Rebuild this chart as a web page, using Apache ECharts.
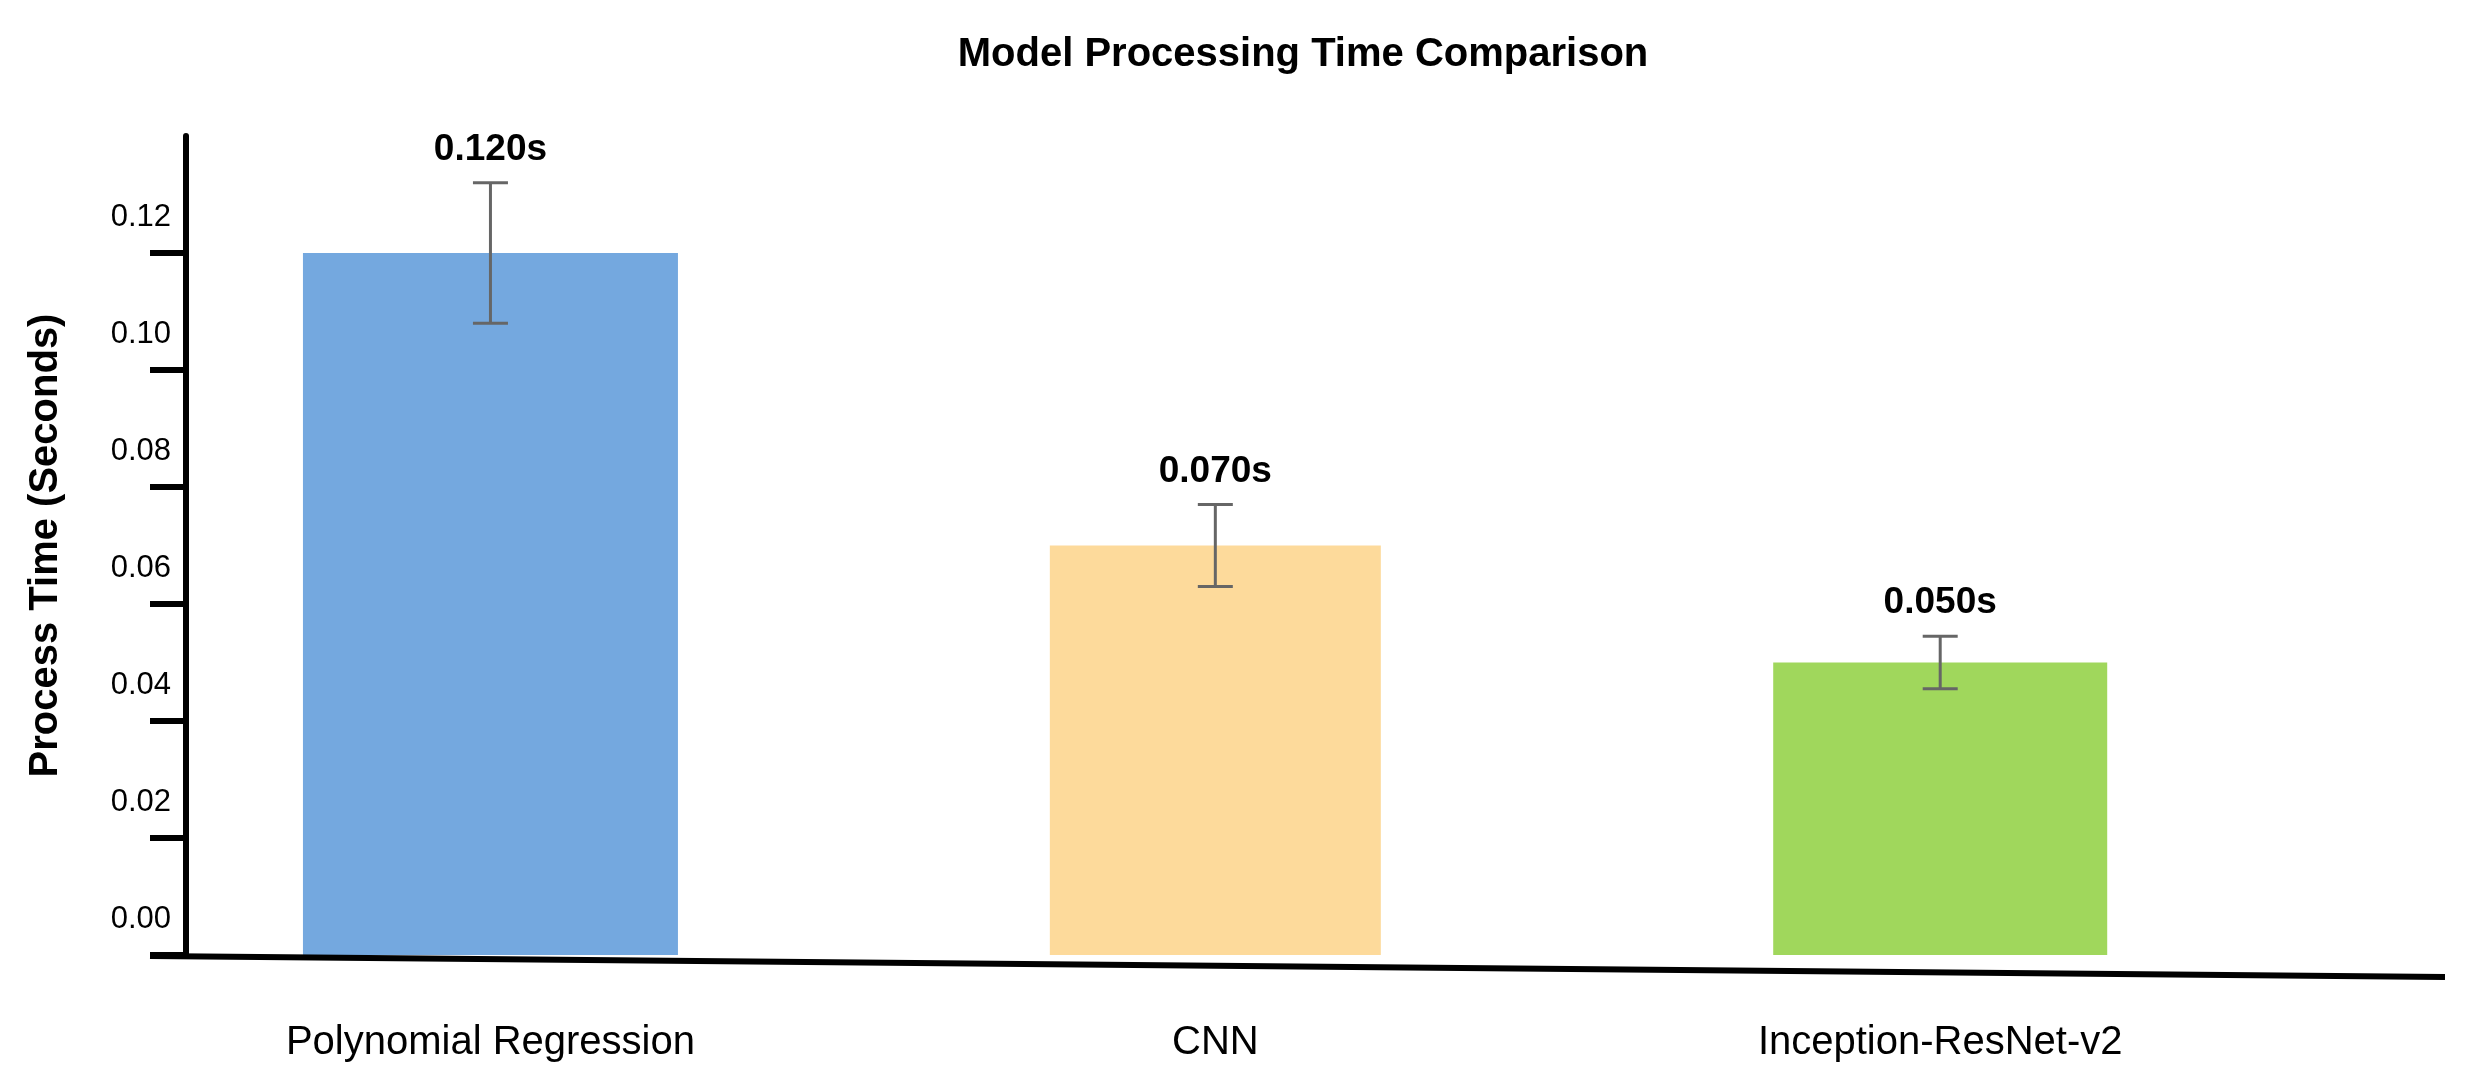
<!DOCTYPE html>
<html>
<head>
<meta charset="utf-8">
<script src="https://cdn.jsdelivr.net/npm/echarts@6/dist/echarts.min.js"></script>
<style>
html,body{margin:0;padding:0;background:#fff;}
#chart{width:2473px;height:1081px;}
</style>
</head>
<body>
<div id="chart"></div>
<script>
// ---- data ----
const categories = ['Polynomial Regression', 'CNN', 'Inception-ResNet-v2'];
const processTimes = [0.120, 0.070, 0.050];
const errorMargins = [0.012, 0.007, 0.0045];
const valueLabels = ['0.120s', '0.070s', '0.050s'];
const yTickValues = [0, 0.02, 0.04, 0.06, 0.08, 0.10, 0.12, 0.14];

// ---- styles ----
const barColors = ['#74A8DF', '#FDDA9B', '#A0D75C'];
const barWidthsPx = [375, 331, 334];
const FONT = '"Liberation Sans", Helvetica, Arial, sans-serif';

const chart = echarts.init(document.getElementById('chart'));

const barData = processTimes.map((v, i) => [i, v]);
const errData = processTimes.map((v, i) => [i, v, errorMargins[i]]);

const option = {
  backgroundColor: '#ffffff',
  animation: false,
  title: {
    text: 'Model Processing Time Comparison',
    left: 1298,
    top: 30,
    textAlign: 'center',
    textStyle: { fontFamily: FONT, fontSize: 40, fontWeight: 'bold', color: '#000' }
  },
  grid: { left: 186, right: 29, top: 136, bottom: 126, containLabel: false },
  xAxis: {
    type: 'value',
    min: -0.42,
    max: 2.695,
    splitLine: { show: false },
    axisLine: { show: false, onZero: false },
    axisTick: { show: false },
    axisLabel: {
      customValues: [0, 1, 2],
      formatter: v => categories[Math.round(v)] || '',
      fontFamily: FONT,
      fontSize: 40,
      color: '#000',
      margin: 68
    }
  },
  yAxis: {
    type: 'value',
    min: 0,
    max: 0.14,
    interval: 0.02,
    name: 'Process Time (Seconds)',
    nameLocation: 'middle',
    nameGap: 120,
    nameTextStyle: { fontFamily: FONT, fontSize: 40, fontWeight: 'bold', color: '#000' },
    splitLine: { show: false },
    axisLine: { show: true, onZero: false, lineStyle: { color: '#000', width: 6 } },
    axisTick: { show: true, length: 36, lineStyle: { color: '#000', width: 6 } },
    axisLabel: {
      showMaxLabel: false,
      formatter: v => (v >= 0.139 ? '' : v.toFixed(2)),
      fontFamily: FONT,
      fontSize: 31,
      color: '#000',
      margin: 15,
      verticalAlign: 'bottom',
      padding: [0, 0, 20, 0]
    }
  },
  graphic: [{
    type: 'line',
    z: 100,
    shape: { x1: 150, y1: 956, x2: 2445, y2: 977 },
    style: { stroke: '#000', lineWidth: 6 }
  }],
  series: [
    {
      type: 'custom',
      name: 'bars',
      data: barData,
      z: 2,
      renderItem: function (params, api) {
        const i = params.dataIndex;
        const x = api.value(0), v = api.value(1);
        const p0 = api.coord([x, 0]);
        const p1 = api.coord([x, v]);
        const w = barWidthsPx[i];
        return {
          type: 'rect',
          shape: { x: p0[0] - w / 2, y: p1[1], width: w, height: p0[1] - p1[1] },
          style: { fill: barColors[i] }
        };
      }
    },
    {
      type: 'custom',
      name: 'errors',
      data: errData,
      z: 3,
      renderItem: function (params, api) {
        const i = params.dataIndex;
        const x = api.value(0), v = api.value(1), e = api.value(2);
        const top = api.coord([x, v + e]);
        const bot = api.coord([x, v - e]);
        const cap = 17.5;
        const ls = { stroke: '#666666', lineWidth: 3 };
        return {
          type: 'group',
          children: [
            { type: 'line', shape: { x1: top[0], y1: top[1], x2: bot[0], y2: bot[1] }, style: ls },
            { type: 'line', shape: { x1: top[0] - cap, y1: top[1], x2: top[0] + cap, y2: top[1] }, style: ls },
            { type: 'line', shape: { x1: bot[0] - cap, y1: bot[1], x2: bot[0] + cap, y2: bot[1] }, style: ls },
            {
              type: 'text',
              x: top[0], y: top[1] - 33,
              style: {
                text: valueLabels[i],
                fontFamily: FONT, fontSize: 37, fontWeight: 'bold', fill: '#000',
                align: 'center', verticalAlign: 'middle'
              }
            }
          ]
        };
      }
    }
  ]
};
chart.setOption(option);
</script>
</body>
</html>
